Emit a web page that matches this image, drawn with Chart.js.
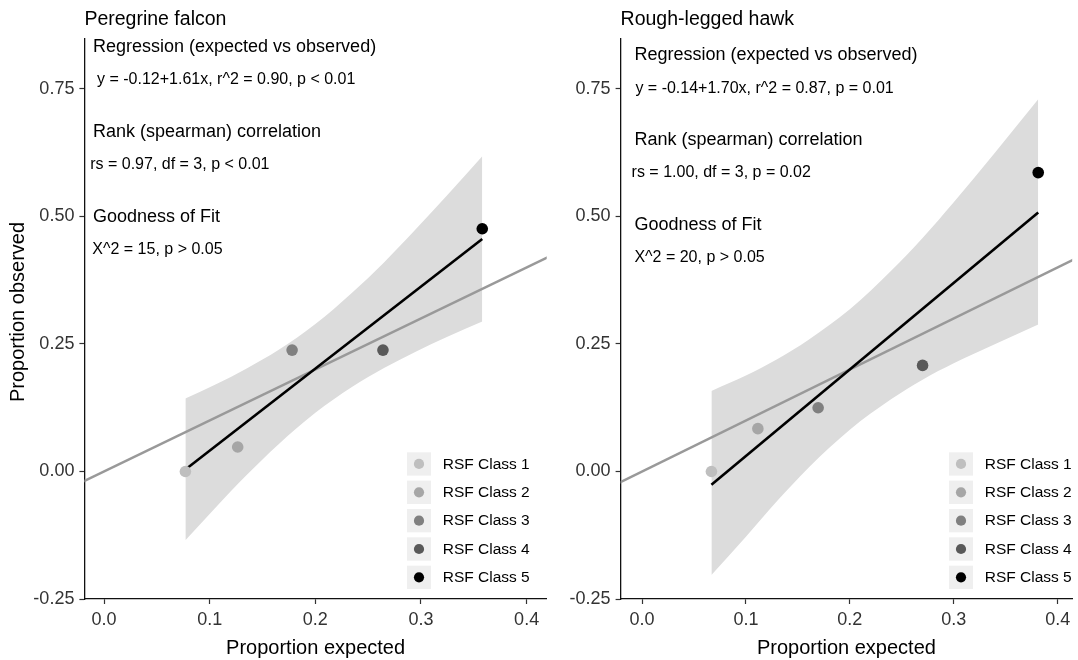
<!DOCTYPE html>
<html>
<head>
<meta charset="utf-8">
<script src="https://cdn.jsdelivr.net/npm/chart.js@4.4.1/dist/chart.umd.min.js"></script>
<style>
  html, body { margin: 0; padding: 0; background: #fff; overflow: hidden; }
  #wrap { position: relative; width: 1078px; height: 660px; }
  canvas { position: absolute; top: 0; }
</style>
</head>
<body>
<div id="wrap">
  <canvas id="pf" width="560" height="660" style="left:0"></canvas>
  <canvas id="rl" width="518" height="660" style="left:560px"></canvas>
</div>
<script>
const FONT = '"Liberation Sans", Arial, sans-serif';

const classes = ['RSF Class 1', 'RSF Class 2', 'RSF Class 3', 'RSF Class 4', 'RSF Class 5'];
const classColors = ['#bfbfbf', '#a6a6a6', '#808080', '#595959', '#000000'];
const xTicks = [0, 0.1, 0.2, 0.3, 0.4];
const yTicks = [-0.25, 0, 0.25, 0.5, 0.75];

// 1:1 reference line (clipped to the panel)
const refX = [-0.05, 0.45];
const refY = [-0.05, 0.45];

// Peregrine falcon
const pfExpected = [0.077, 0.1265, 0.178, 0.264, 0.358];
const pfObserved = [0.0, 0.048, 0.238, 0.238, 0.476];
const pfFitX = [0.077, 0.358];
const pfFitY = [0.004, 0.456];
const pfBandX = [0.077, 0.105, 0.135, 0.165, 0.2, 0.235, 0.265, 0.295, 0.325, 0.358];
const pfBandUpper = [0.143, 0.170, 0.202, 0.238, 0.289, 0.351, 0.410, 0.475, 0.542, 0.618];
const pfBandLower = [-0.135, -0.072, -0.007, 0.053, 0.115, 0.166, 0.203, 0.235, 0.264, 0.294];
const pfStats = [
  'Regression (expected vs observed)',
  'y = -0.12+1.61x, r^2 = 0.90, p < 0.01',
  'Rank (spearman) correlation',
  'rs = 0.97, df = 3, p < 0.01',
  'Goodness of Fit',
  'X^2 = 15, p > 0.05'
];

// Rough-legged hawk
const rlExpected = [0.0668, 0.1115, 0.1695, 0.270, 0.3813];
const rlObserved = [0.0, 0.084, 0.125, 0.208, 0.586];
const rlFitX = [0.0668, 0.3813];
const rlFitY = [-0.026, 0.508];
const rlBandX = [0.0668, 0.1, 0.13, 0.16, 0.2, 0.24, 0.27, 0.30, 0.34, 0.3813];
const rlBandUpper = [0.158, 0.188, 0.220, 0.258, 0.318, 0.394, 0.458, 0.528, 0.626, 0.730];
const rlBandLower = [-0.203, -0.128, -0.058, 0.007, 0.082, 0.142, 0.180, 0.212, 0.250, 0.288];
const rlStats = [
  'Regression (expected vs observed)',
  'y = -0.14+1.70x, r^2 = 0.87, p = 0.01',
  'Rank (spearman) correlation',
  'rs = 1.00, df = 3, p = 0.02',
  'Goodness of Fit',
  'X^2 = 20, p > 0.05'
];

const xy = (xs, ys) => xs.map((x, i) => ({ x: x, y: ys[i] }));

// titles, annotations, legend and axis titles
const panelText = {
  id: 'panelText',
  afterDraw(chart, args, o) {
    const ctx = chart.ctx, a = chart.chartArea;
    ctx.save();
    ctx.textBaseline = 'middle';
    ctx.textAlign = 'left';
    ctx.fillStyle = '#000';
    ctx.font = '19.5px ' + FONT;
    ctx.fillText(o.title, a.left, 20);
    o.stats.forEach((s, i) => {
      ctx.font = (i % 2 ? '16px ' : '18px ') + FONT;
      ctx.fillText(s, a.left + o.statDx[i], o.statY[i]);
    });

    ctx.font = '20px ' + FONT;
    ctx.textAlign = 'center';
    ctx.fillText('Proportion expected', (a.left + a.right) / 2, 648);
    if (o.yTitle) {
      ctx.save();
      ctx.translate(18, 312);
      ctx.rotate(-Math.PI / 2);
      ctx.fillText(o.yTitle, 0, 0);
      ctx.restore();
    }

    // legend
    classes.forEach((c, i) => {
      const top = o.legendTop + i * 28.35;
      ctx.fillStyle = '#efefef';
      ctx.fillRect(o.legendX, top, 24, 23.3);
      ctx.fillStyle = classColors[i];
      ctx.beginPath();
      ctx.arc(o.legendX + 12, top + 11.65, 5.1, 0, Math.PI * 2);
      ctx.fill();
      ctx.fillStyle = '#000';
      ctx.textAlign = 'left';
      ctx.font = '15.5px ' + FONT;
      ctx.fillText(c, o.legendX + 35.7, top + 12);
    });
    ctx.restore();
  }
};

function makePanel(id, p) {
  const axisCommon = {
    type: 'linear',
    border: { display: true, color: '#111', width: 1.3 },
    grid: { drawOnChartArea: false, drawTicks: true, tickLength: 5, tickColor: '#333', tickWidth: 1.2 },
  };
  return new Chart(document.getElementById(id), {
    type: 'line',
    data: {
      datasets: [
        { data: xy(p.expected, p.observed), showLine: false, pointRadius: 5.8, pointHoverRadius: 5.8,
          pointBackgroundColor: classColors, pointBorderColor: classColors, pointBorderWidth: 0, order: 1 },
        { data: xy(p.fitX, p.fitY), borderColor: '#000', borderWidth: 2.6, pointRadius: 0, order: 2 },
        { data: xy(refX, refY), borderColor: '#999', borderWidth: 2.5, pointRadius: 0, order: 3 },
        { data: xy(p.bandX, p.bandUpper), borderWidth: 0, pointRadius: 0, fill: '+1',
          backgroundColor: '#dcdcdc', cubicInterpolationMode: 'monotone', order: 4 },
        { data: xy(p.bandX, p.bandLower), borderWidth: 0, pointRadius: 0, fill: false,
          cubicInterpolationMode: 'monotone', order: 5 }
      ]
    },
    options: {
      responsive: false,
      animation: false,
      devicePixelRatio: 1,
      layout: { padding: { left: 0, top: 39, right: p.padRight, bottom: 0 } },
      plugins: {
        legend: { display: false },
        tooltip: { enabled: false },
        panelText: p.text
      },
      scales: {
        x: Object.assign({}, axisCommon, {
          min: p.xMin, max: p.xMax,
          afterBuildTicks: s => { s.ticks = xTicks.map(v => ({ value: v })); },
          afterFit: s => { s.height = 61; },
          ticks: { padding: 5, color: '#333', font: { size: 18, family: FONT },
                   callback: v => v.toFixed(1), maxRotation: 0 }
        }),
        y: Object.assign({}, axisCommon, {
          min: -0.25, max: 0.848,
          afterBuildTicks: s => { s.ticks = yTicks.map(v => ({ value: v })); },
          afterFit: s => { s.width = p.yWidth; },
          ticks: { padding: 5, color: '#333', font: { size: 18, family: FONT },
                   callback: v => v.toFixed(2) }
        })
      }
    },
    plugins: [panelText]
  });
}

makePanel('pf', {
  expected: pfExpected, observed: pfObserved,
  fitX: pfFitX, fitY: pfFitY,
  bandX: pfBandX, bandUpper: pfBandUpper, bandLower: pfBandLower,
  xMin: -0.0186, xMax: 0.419, yWidth: 84.4, padRight: 13.3,
  text: {
    title: 'Peregrine falcon', stats: pfStats, yTitle: 'Proportion observed',
    statDx: [8.6, 12.6, 8.6, 5.8, 8.6, 7.9], statY: [47, 80, 132, 165, 217, 250],
    legendX: 407, legendTop: 452.3
  }
});

makePanel('rl', {
  expected: rlExpected, observed: rlObserved,
  fitX: rlFitX, fitY: rlFitY,
  bandX: rlBandX, bandUpper: rlBandUpper, bandLower: rlBandLower,
  xMin: -0.0206, xMax: 0.414, yWidth: 60.6, padRight: 0,
  text: {
    title: 'Rough-legged hawk', stats: rlStats, yTitle: null,
    statDx: [13.8, 14.8, 13.8, 11, 13.8, 13.8], statY: [55, 89, 140, 173, 225, 258],
    legendX: 389, legendTop: 452.3
  }
});
</script>
</body>
</html>
